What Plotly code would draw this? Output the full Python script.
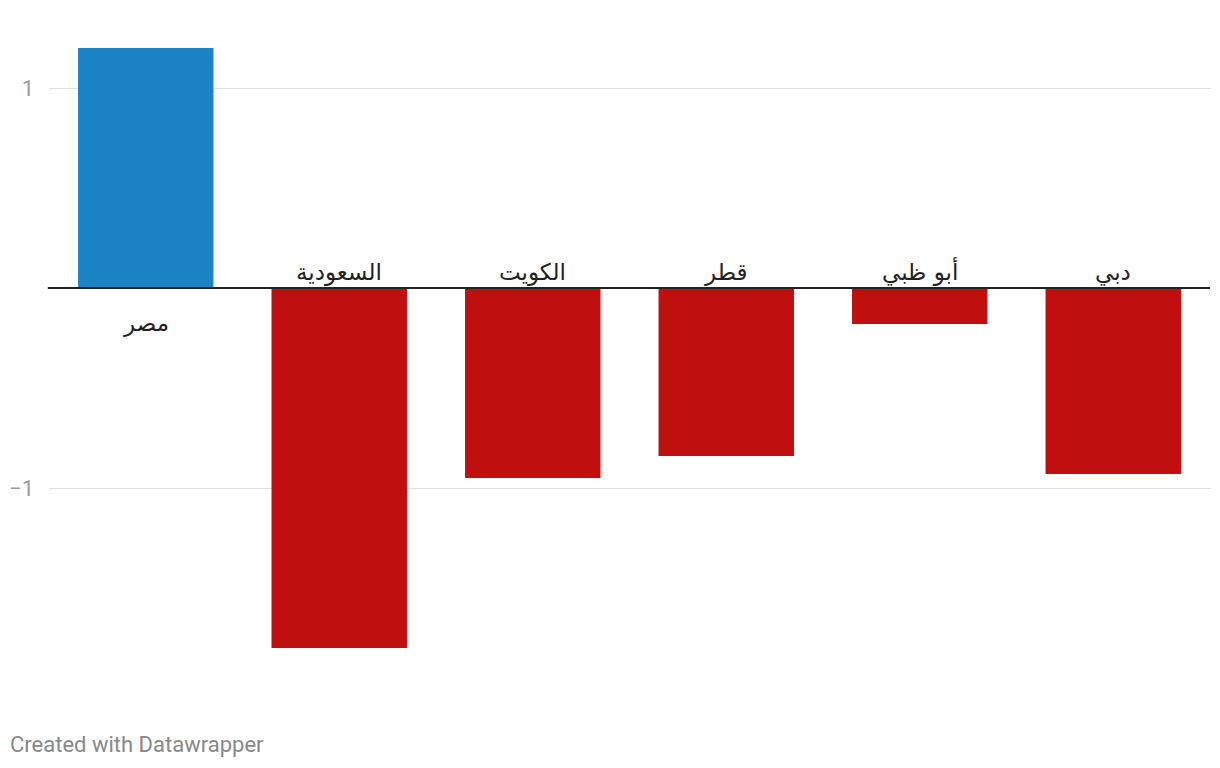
import plotly.graph_objects as go

categories = ["مصر", "السعودية", "الكويت", "قطر", "أبو ظبي", "دبي"]
values = [1.2, -1.8, -0.95, -0.84, -0.18, -0.93]
tick_vals = [-1, 1]
tick_text = ["−1", "1"]

colors = ["#1a84c7" if v >= 0 else "#c00f0f" for v in values]

fig = go.Figure()
fig.add_trace(go.Bar(x=categories, y=values, marker=dict(color=colors, line=dict(width=0)),
                     hoverinfo="x+y"))

label_font = dict(size=23, color="#222222", family="DejaVu Sans")
annotations = []
for c, v in zip(categories, values):
    if v < 0:
        annotations.append(dict(x=c, y=0, xref="x", yref="y", text=c, showarrow=False,
                                yanchor="bottom", yshift=0, font=label_font))
    else:
        annotations.append(dict(x=c, y=0, xref="x", yref="y", text=c, showarrow=False,
                                yanchor="top", yshift=-20, font=label_font))

annotations.append(dict(x=-0.0353, y=-0.066, xref="paper", yref="paper", text="Created with Datawrapper",
                        showarrow=False, xanchor="left", yanchor="middle",
                        font=dict(size=22, color="#888888", family="Roboto")))

fig.update_layout(
    width=1212, height=752,
    margin=dict(l=41, r=10, t=12, b=60, autoexpand=False),
    paper_bgcolor="white", plot_bgcolor="white",
    bargap=0.3,
    showlegend=False,
    font=dict(family="Roboto", size=20, color="#999999"),
    xaxis=dict(showticklabels=False, showgrid=False, zeroline=False, showline=False, ticks="",
               automargin=False),
    yaxis=dict(range=[-2.06, 1.34], tickvals=tick_vals, ticktext=tick_text,
               showgrid=True, gridcolor="#e0e0e0", gridwidth=1, zeroline=False,
               showline=False, ticks="", ticklabelstandoff=14, automargin=False,
               tickfont=dict(size=22, color="#999999", family="Roboto")),
    annotations=annotations,
    shapes=[dict(type="line", xref="paper", yref="y", x0=-0.001, x1=1, y0=0, y1=0,
                 line=dict(color="#222222", width=2), layer="above")],
)

fig.write_html("out.html")
